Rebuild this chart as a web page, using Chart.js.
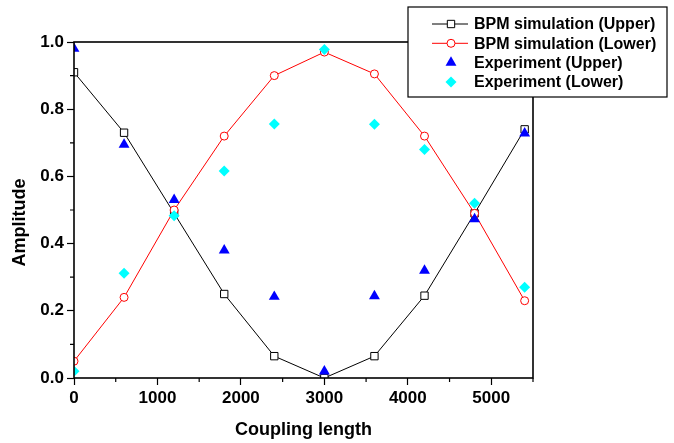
<!DOCTYPE html>
<html>
<head>
<meta charset="utf-8">
<script src="https://cdn.jsdelivr.net/npm/chart.js@4/dist/chart.umd.min.js"></script>
<style>
  html, body { margin: 0; padding: 0; background: #fff; }
  #wrap { width: 674px; height: 443px; position: relative; }
</style>
</head>
<body>
<div id="wrap"><canvas id="chart"></canvas></div>
<script>
// data
const couplingLength = [0, 600, 1200, 1800, 2400, 3000, 3600, 4200, 4800, 5400];
const bpmUpper = [0.91, 0.73, 0.49, 0.25, 0.065, 0.0, 0.065, 0.245, 0.49, 0.74];
const bpmLower = [0.05, 0.24, 0.50, 0.72, 0.90, 0.97, 0.905, 0.72, 0.49, 0.23];
const expUpper = [0.98, 0.695, 0.53, 0.38, 0.242, 0.02, 0.244, 0.32, 0.473, 0.728];
const expLower = [0.02, 0.312, 0.483, 0.616, 0.756, 0.978, 0.755, 0.68, 0.52, 0.27];

const xTicks = [0, 1000, 2000, 3000, 4000, 5000];
const xMinorTicks = [500, 1500, 2500, 3500, 4500, 5500];
const yTicks = [0, 0.2, 0.4, 0.6, 0.8, 1.0];
const yMinorTicks = [0.1, 0.3, 0.5, 0.7, 0.9];

const FONT = "'Liberation Sans', Arial, sans-serif";

const pts = (ys) => couplingLength.map((x, i) => ({ x: x, y: ys[i] }));

// frame + minor ticks + legend box
const decorations = {
  id: "decorations",
  afterDatasetsDraw(chart) {
    const { ctx, chartArea: a, scales } = chart;
    ctx.save();
    ctx.strokeStyle = "#000";
    ctx.lineWidth = 1.6;
    ctx.strokeRect(a.left, a.top, a.right - a.left, a.bottom - a.top);

    ctx.lineWidth = 1.2;
    ctx.beginPath();
    xMinorTicks.forEach((v) => {
      const px = scales.x.getPixelForValue(v);
      ctx.moveTo(px, a.bottom);
      ctx.lineTo(px, a.bottom + 4);
    });
    yMinorTicks.forEach((v) => {
      const py = scales.y.getPixelForValue(v);
      ctx.moveTo(a.left, py);
      ctx.lineTo(a.left - 4, py);
    });
    ctx.stroke();

    // legend
    const bx = 408, by = 7, bw = 259, bh = 90;
    ctx.fillStyle = "#fff";
    ctx.fillRect(bx, by, bw, bh);
    ctx.lineWidth = 1.2;
    ctx.strokeRect(bx, by, bw, bh);

    const items = [chart.data.datasets[3], chart.data.datasets[2], chart.data.datasets[1], chart.data.datasets[0]];
    ctx.font = "bold 16px " + FONT;
    ctx.textBaseline = "middle";
    ctx.textAlign = "left";
    items.forEach((ds, i) => {
      const cy = by + 17 + i * 19.3;
      if (ds.showLine) {
        ctx.strokeStyle = ds.borderColor;
        ctx.lineWidth = 1;
        ctx.beginPath();
        ctx.moveTo(432, cy);
        ctx.lineTo(468, cy);
        ctx.stroke();
      }
      ctx.fillStyle = ds.pointBackgroundColor;
      ctx.strokeStyle = ds.pointBorderColor;
      ctx.lineWidth = ds.pointBorderWidth;
      Chart.helpers.drawPoint(ctx, {
        pointStyle: ds.pointStyle,
        radius: ds.pointRadius,
        borderWidth: ds.pointBorderWidth,
        rotation: 0
      }, 451, cy);
      ctx.fillStyle = "#000";
      ctx.fillText(ds.label, 474, cy + 1);
    });
    ctx.restore();
  }
};

new Chart(document.getElementById("chart"), {
  type: "scatter",
  data: {
    datasets: [
      {
        label: "Experiment (Lower)",
        data: pts(expLower),
        showLine: false,
        pointStyle: "rectRot",
        pointRadius: 5.5,
        pointBorderWidth: 0,
        pointBackgroundColor: "#00ffff",
        pointBorderColor: "#00ffff",
        order: 0,
        clip: 0
      },
      {
        label: "Experiment (Upper)",
        data: pts(expUpper),
        showLine: false,
        pointStyle: "triangle",
        pointRadius: 6.3,
        pointBorderWidth: 0,
        pointBackgroundColor: "#0000ff",
        pointBorderColor: "#0000ff",
        order: 1,
        clip: 0
      },
      {
        label: "BPM simulation (Lower)",
        data: pts(bpmLower),
        showLine: true,
        borderColor: "#ff0000",
        borderWidth: 1,
        pointStyle: "circle",
        pointRadius: 4,
        pointBorderWidth: 1,
        pointBackgroundColor: "#ffffff",
        pointBorderColor: "#ff0000",
        order: 2,
        clip: 0
      },
      {
        label: "BPM simulation (Upper)",
        data: pts(bpmUpper),
        showLine: true,
        borderColor: "#000000",
        borderWidth: 1,
        pointStyle: "rect",
        pointRadius: 5.2,
        pointBorderWidth: 1,
        pointBackgroundColor: "#ffffff",
        pointBorderColor: "#000000",
        order: 3,
        clip: 0
      }
    ]
  },
  options: {
    responsive: true,
    maintainAspectRatio: false,
    animation: false,
    events: [],
    layout: { padding: { left: 0, top: 42, right: 141, bottom: 0 } },
    plugins: {
      legend: { display: false },
      tooltip: { enabled: false }
    },
    scales: {
      x: {
        type: "linear",
        min: 0,
        max: 5500,
        afterBuildTicks: (scale) => { scale.ticks = xTicks.map((v) => ({ value: v })); },
        afterFit: (scale) => { scale.height = 65; },
        grid: { display: true, drawOnChartArea: false, tickLength: 7, tickColor: "#000", tickWidth: 1.2 },
        border: { display: false },
        ticks: {
          color: "#000",
          padding: 3,
          maxRotation: 0,
          font: { family: FONT, size: 17, weight: "bold" },
          callback: (v) => String(v)
        },
        title: {
          display: true,
          text: "Coupling length",
          color: "#000",
          font: { family: FONT, size: 18, weight: "bold" },
          padding: { top: 0, bottom: 2 }
        }
      },
      y: {
        type: "linear",
        min: 0,
        max: 1,
        afterBuildTicks: (scale) => { scale.ticks = yTicks.map((v) => ({ value: v })); },
        afterFit: (scale) => { scale.width = 74; },
        grid: { display: true, drawOnChartArea: false, tickLength: 7, tickColor: "#000", tickWidth: 1.2 },
        border: { display: false },
        ticks: {
          color: "#000",
          padding: 3,
          font: { family: FONT, size: 17, weight: "bold" },
          callback: (v) => Number(v).toFixed(1)
        },
        title: {
          display: true,
          // trailing nbsp nudges the rotated title down a little, as in the original
          text: "Amplitude\u00A0\u00A0\u00A0\u00A0\u00A0",
          color: "#000",
          font: { family: FONT, size: 18, weight: "bold" },
          padding: { top: 9, bottom: 0 }
        }
      }
    }
  },
  plugins: [decorations]
});
</script>
</body>
</html>
